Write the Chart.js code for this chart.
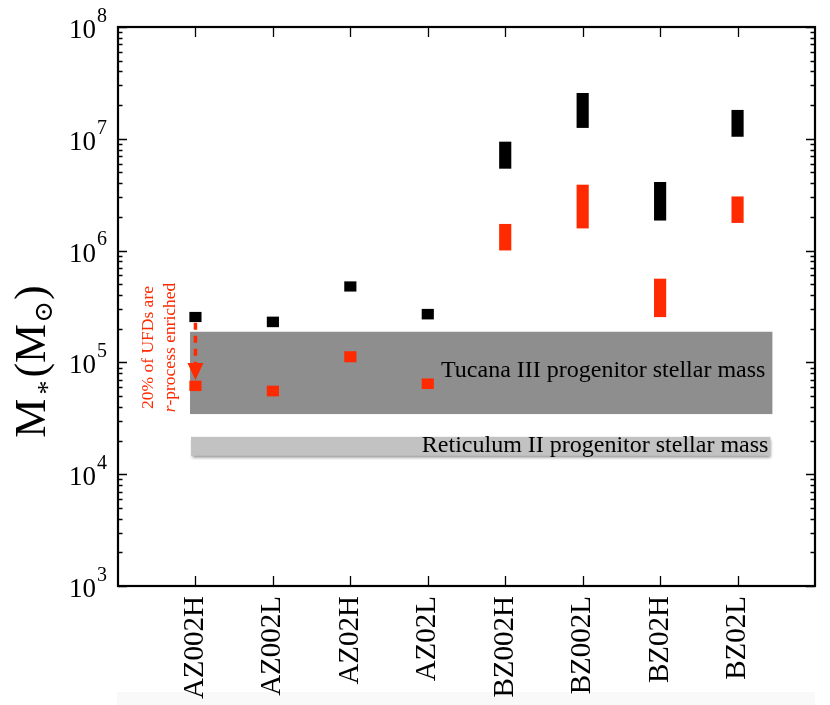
<!DOCTYPE html>
<html><head><meta charset="utf-8">
<script src="https://cdn.jsdelivr.net/npm/chart.js@4.4.1/dist/chart.umd.min.js"></script>
<style>html,body{margin:0;padding:0;background:#fff;}</style>
</head><body>
<canvas id="c" width="830" height="705"></canvas>
<script>
// ---- data ----
const categories = ['AZ002H','AZ002L','AZ02H','AZ02L','BZ002H','BZ002L','BZ02H','BZ02L'];
const blackLow  = [2.31e5, 2.08e5, 4.33e5, 2.44e5, 5.44e6, 1.26e7, 1.87e6, 1.05e7];
const blackHigh = [2.81e5, 2.55e5, 5.27e5, 2.99e5, 9.36e6, 2.55e7, 4.08e6, 1.80e7];
const redLow    = [5.58e4, 5.00e4, 1.01e5, 5.82e4, 1.01e6, 1.59e6, 2.56e5, 1.78e6];
const redHigh   = [6.82e4, 6.15e4, 1.25e5, 7.14e4, 1.72e6, 3.86e6, 5.57e5, 3.03e6];
const yDecades  = [3, 4, 5, 6, 7, 8];
const tucanaRange    = [3.45e4, 1.88e5];
const reticulumRange = [1.46e4, 2.16e4];
const bandX = [0.93, 8.45];
const tucanaLabel    = 'Tucana III progenitor stellar mass';
const reticulumLabel = 'Reticulum II progenitor stellar mass';
const arrowCategory = 1;
const arrowRange = [2.31e5, 6.97e4];
const noteLine1 = '20% of UFDs are';
const noteLine2a = 'r';
const noteLine2b = '-process enriched';

const RED = '#ff2a00';
const SERIF = '"Liberation Serif", "Times New Roman", serif';

const yTickValues = [];
yDecades.forEach((d, i) => {
  for (let m = 1; m <= 9; m++) {
    if (i === yDecades.length - 1 && m > 1) break;
    yTickValues.push(m * Math.pow(10, d));
  }
});

const decor = {
  id: 'decor',
  beforeDraw(chart) {
    const ctx = chart.ctx;
    ctx.save();
    ctx.fillStyle = '#f9f9f9';
    ctx.fillRect(117, 692, 698, 13);
    ctx.restore();
  },
  beforeDatasetsDraw(chart) {
    const {ctx, scales: {x, y}} = chart;
    const x0 = x.getPixelForValue(bandX[0]), x1 = x.getPixelForValue(bandX[1]);
    ctx.save();
    // Tucana band
    let t = y.getPixelForValue(tucanaRange[1]), b = y.getPixelForValue(tucanaRange[0]);
    ctx.fillStyle = '#8e8e8e';
    ctx.fillRect(x0, t, x1 - x0, b - t);
    ctx.font = '24px ' + SERIF;
    ctx.fillStyle = '#000';
    ctx.textAlign = 'right';
    ctx.textBaseline = 'alphabetic';
    ctx.fillText(tucanaLabel, x1 - 7, b - 37);
    // Reticulum band
    t = y.getPixelForValue(reticulumRange[1]); b = y.getPixelForValue(reticulumRange[0]);
    ctx.save();
    ctx.shadowColor = 'rgba(0,0,0,0.45)';
    ctx.shadowBlur = 3;
    ctx.shadowOffsetX = 1;
    ctx.shadowOffsetY = 2;
    ctx.fillStyle = '#c2c2c2';
    ctx.fillRect(x0 + 1, t, x1 - x0 - 3, b - t);
    ctx.restore();
    ctx.fillStyle = '#000';
    ctx.fillText(reticulumLabel, x1 - 4, b - 4);
    ctx.restore();
  },
  afterDatasetsDraw(chart) {
    const {ctx, scales: {x, y}} = chart;
    const ax = x.getPixelForValue(arrowCategory);
    const yFrom = y.getPixelForValue(arrowRange[0]) + 1;
    const yTip = y.getPixelForValue(arrowRange[1]);
    const head = 17;
    ctx.save();
    ctx.strokeStyle = RED;
    ctx.lineWidth = 3.5;
    ctx.setLineDash([7, 6]);
    ctx.beginPath();
    ctx.moveTo(ax, yFrom);
    ctx.lineTo(ax, yTip - head);
    ctx.stroke();
    ctx.setLineDash([]);
    ctx.fillStyle = RED;
    ctx.beginPath();
    ctx.moveTo(ax - 8, yTip - head);
    ctx.lineTo(ax + 8, yTip - head);
    ctx.lineTo(ax, yTip);
    ctx.closePath();
    ctx.fill();
    // note text (rotated)
    const cy = 347.5;
    const fs = '17.5px ';
    ctx.font = fs + SERIF;
    ctx.textBaseline = 'alphabetic';
    ctx.save();
    ctx.translate(153, cy);
    ctx.rotate(-Math.PI / 2);
    ctx.textAlign = 'center';
    ctx.fillText(noteLine1, 0, 0);
    ctx.restore();
    ctx.save();
    ctx.translate(175, cy);
    ctx.rotate(-Math.PI / 2);
    ctx.textAlign = 'left';
    ctx.font = 'italic ' + fs + SERIF;
    const wa = ctx.measureText(noteLine2a).width;
    ctx.font = fs + SERIF;
    const wb = ctx.measureText(noteLine2b).width;
    const start = -(wa + wb) / 2;
    ctx.font = 'italic ' + fs + SERIF;
    ctx.fillText(noteLine2a, start, 0);
    ctx.font = fs + SERIF;
    ctx.fillText(noteLine2b, start + wa, 0);
    ctx.restore();
    ctx.restore();
  },
  afterDraw(chart) {
    const {ctx, chartArea: ca, scales: {x, y}} = chart;
    ctx.save();
    ctx.strokeStyle = '#000';
    // ticks
    ctx.lineWidth = 1.3;
    ctx.beginPath();
    y.ticks.forEach(tk => {
      const py = Math.round(y.getPixelForValue(tk.value)) + 0.5;
      const lg = Math.log10(tk.value);
      const major = Math.abs(lg - Math.round(lg)) < 1e-9;
      const len = major ? 9 : 4.5;
      ctx.moveTo(ca.left, py); ctx.lineTo(ca.left + len, py);
      ctx.moveTo(ca.right, py); ctx.lineTo(ca.right - len, py);
    });
    x.ticks.forEach(tk => {
      const px = Math.round(x.getPixelForValue(tk.value)) + 0.5;
      ctx.moveTo(px, ca.top); ctx.lineTo(px, ca.top + 10);
      ctx.moveTo(px, ca.bottom); ctx.lineTo(px, ca.bottom - 10);
    });
    ctx.stroke();
    // frame
    ctx.lineWidth = 2.2;
    ctx.strokeRect(ca.left, ca.top, ca.right - ca.left, ca.bottom - ca.top);
    // y labels 10^n
    ctx.fillStyle = '#000';
    ctx.textBaseline = 'alphabetic';
    yDecades.forEach(d => {
      const py = y.getPixelForValue(Math.pow(10, d));
      ctx.font = '27px ' + SERIF;
      ctx.textAlign = 'right';
      ctx.fillText('10', 96, py + 11);
      ctx.font = '20px ' + SERIF;
      ctx.textAlign = 'left';
      ctx.fillText(String(d), 97, py - 5.3);
    });
    // y title: M_*(M_sun)
    const segs = [
      {t: 'M', f: '44px ' + SERIF, dy: 0, gap: 4},
      {t: '*', f: '28px ' + SERIF, dy: 11, gap: 3},
      {t: '(M', f: '44px ' + SERIF, dy: 0, gap: 1},
      {t: '\u2299', f: '26px "DejaVu Serif", ' + SERIF, dy: 7, gap: 1},
      {t: ')', f: '44px ' + SERIF, dy: 0, gap: 0}
    ];
    let total = 0;
    segs.forEach(s => { ctx.font = s.f; s.w = ctx.measureText(s.t).width; total += s.w + s.gap; });
    ctx.save();
    ctx.translate(45, 361.5);
    ctx.rotate(-Math.PI / 2);
    ctx.textAlign = 'left';
    let cx = -total / 2;
    segs.forEach(s => { ctx.font = s.f; ctx.fillText(s.t, cx, s.dy); cx += s.w + s.gap; });
    ctx.restore();
    ctx.restore();
  }
};

new Chart(document.getElementById('c'), {
  type: 'bar',
  data: {
    datasets: [
      {
        label: 'total',
        data: categories.map((c, i) => ({x: i + 1, y: [blackLow[i], blackHigh[i]]})),
        backgroundColor: '#000',
        borderWidth: 0,
        barThickness: 11.5,
        grouped: false
      },
      {
        label: 'r-process',
        data: categories.map((c, i) => ({x: i + 1, y: [redLow[i], redHigh[i]]})),
        backgroundColor: RED,
        borderWidth: 0,
        barThickness: 11.5,
        grouped: false
      }
    ]
  },
  options: {
    responsive: false,
    animation: false,
    devicePixelRatio: 1,
    layout: {padding: {left: 0, top: 27, right: 15, bottom: 0}},
    plugins: {legend: {display: false}, tooltip: {enabled: false}},
    scales: {
      x: {
        type: 'linear', min: 0, max: 9, offset: false,
        grid: {display: false, drawTicks: false},
        border: {display: false},
        afterBuildTicks: s => { s.ticks = categories.map((c, i) => ({value: i + 1})); },
        afterFit: s => { s.height = 119; },
        ticks: {
          autoSkip: false, minRotation: 90, maxRotation: 90, padding: 10,
          color: '#000', font: {family: 'Liberation Serif', size: 29},
          callback: v => categories[v - 1] || ''
        }
      },
      y: {
        type: 'logarithmic', min: 1e3, max: 1e8,
        grid: {display: false, drawTicks: false},
        border: {display: false},
        afterBuildTicks: s => { s.ticks = yTickValues.map(v => ({value: v})); },
        afterFit: s => { s.width = 118; },
        ticks: {display: false}
      }
    }
  },
  plugins: [decor]
});
</script>
</body></html>
